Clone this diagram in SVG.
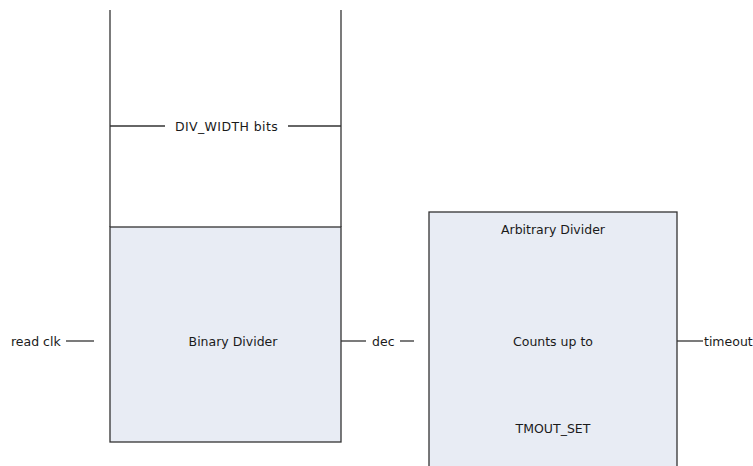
<svg xmlns="http://www.w3.org/2000/svg" width="753" height="466" viewBox="0 0 753 466">
<style>
.t{font-family:"DejaVu Sans",Verdana,sans-serif;font-size:12.5px;fill:#1a1a1a;}
.m{text-anchor:middle;}
.ln{stroke:#333;stroke-width:1.3;fill:none;}
.box{fill:#e8ecf4;stroke:#333;stroke-width:1.3;}
</style>
<rect width="753" height="466" fill="#fff"/>
<g id="register">
<line class="ln" x1="110" y1="10" x2="110" y2="227"/>
<line class="ln" x1="341" y1="10" x2="341" y2="227"/>
<line class="ln" x1="110" y1="126" x2="165" y2="126"/>
<line class="ln" x1="288" y1="126" x2="341" y2="126"/>
<text class="t m" x="226.5" y="130.5" letter-spacing="0.4">DIV_WIDTH bits</text>
</g>
<g id="binary-divider">
<rect class="box" x="110" y="227" width="231" height="215"/>
<text class="t m" x="233" y="345.5">Binary Divider</text>
</g>
<g id="arbitrary-divider">
<rect class="box" x="429" y="212" width="248" height="270"/>
<text class="t m" x="553" y="233.5">Arbitrary Divider</text>
<text class="t m" x="553" y="345.5">Counts up to</text>
<text class="t m" x="553" y="432.5">TMOUT_SET</text>
</g>
<g id="connectors">
<text class="t" x="11" y="345.5">read clk</text>
<line class="ln" x1="66" y1="341" x2="94" y2="341"/>
<line class="ln" x1="341" y1="341" x2="366" y2="341"/>
<text class="t" x="372" y="345.5">dec</text>
<line class="ln" x1="400" y1="341" x2="414" y2="341"/>
<line class="ln" x1="677" y1="341" x2="703" y2="341"/>
<text class="t" x="704" y="345.5">timeout</text>
</g>
</svg>
